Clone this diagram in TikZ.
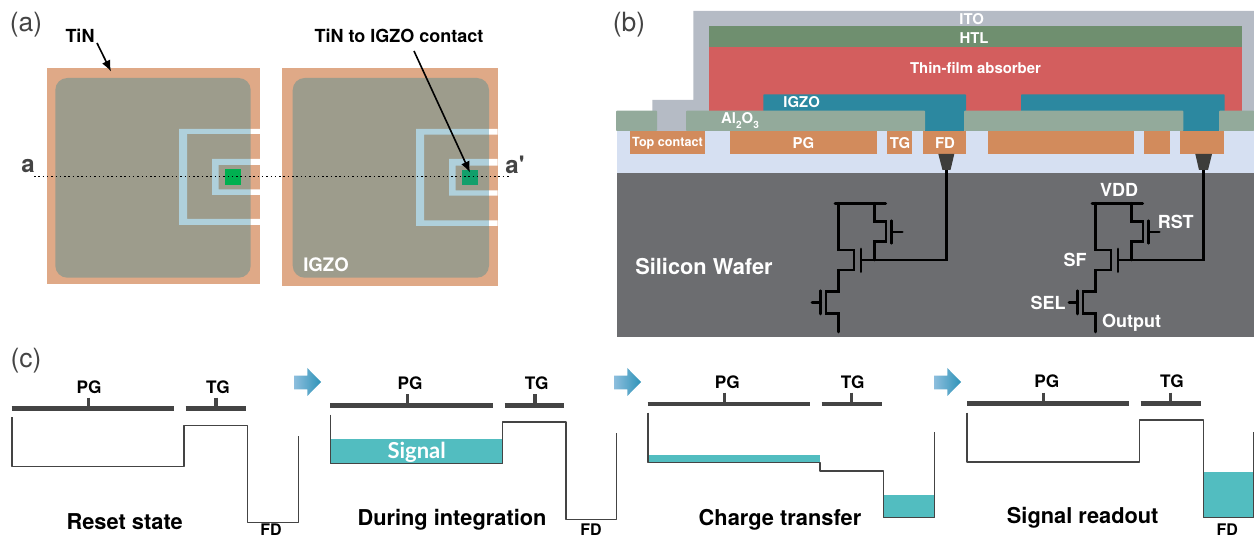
\documentclass[tikz,border=0pt]{standalone}
\usepackage{fontspec}
\setmainfont{TeX Gyre Heros}
\newfontfamily\plainheros{TeX Gyre Heros}
\newfontfamily\signalfont{Lato}
\usetikzlibrary{arrows.meta}
\definecolor{tincol}{HTML}{DFA987}
\definecolor{igzogray}{HTML}{9D9C8C}
\definecolor{ubluecol}{HTML}{AFD0DB}
\definecolor{itocol}{HTML}{B5BBC5}
\definecolor{htlcol}{HTML}{6F8F6F}
\definecolor{abscol}{HTML}{D35E5E}
\definecolor{igzocol}{HTML}{2C88A0}
\definecolor{alcol}{HTML}{93AA9B}
\definecolor{metalcol}{HTML}{D28B5C}
\definecolor{oxcol}{HTML}{D6E0F2}
\definecolor{sicol}{HTML}{6C6D70}
\definecolor{viacol}{HTML}{3D3D3B}
\definecolor{signalcol}{HTML}{52BDC0}
\definecolor{barcol}{HTML}{444444}
\definecolor{contactL}{HTML}{00B050}
\definecolor{contactR}{HTML}{129F6B}
\definecolor{arrowleft}{HTML}{8DBEDD}
\definecolor{arrowright}{HTML}{2E93B8}
\newcommand\subt[1]{\raisebox{-.3em}{\fontsize{10}{10}\selectfont #1}}
\tikzset{
  x=1pt,y=-1pt,
  panellab/.style={font=\fontsize{26.5}{26.5}\selectfont,text=barcol,inner sep=0pt},
  blacklab/.style={font=\fontsize{18}{18}\selectfont\bfseries,text=black,inner sep=0pt},
  sectlab/.style={font=\plainheros\fontsize{24}{24}\selectfont\bfseries,text=barcol,inner sep=0pt},
  whitelab/.style={font=\fontsize{14.9}{14.9}\selectfont\bfseries,text=white,inner sep=0pt},
  circlab/.style={font=\fontsize{18}{18}\selectfont\bfseries,text=white,inner sep=0pt},
  statelab/.style={font=\fontsize{21.8}{21.8}\selectfont\bfseries,text=black,inner sep=0pt},
  gatelab/.style={font=\fontsize{17.2}{17.2}\selectfont\bfseries,text=black,inner sep=0pt},
  fdlab/.style={font=\fontsize{16}{16}\selectfont\bfseries,text=black,inner sep=0pt},
  gatebar/.style={draw=barcol,line width=4.5pt},
  gatestem/.style={draw=barcol,line width=3.5pt},
  profile/.style={draw=barcol,line width=1.2pt,line join=round},
  wire/.style={draw=black,line width=2.8pt,line cap=round,line join=miter},
  callout/.style={draw=black,line width=1.6pt,-{Latex[length=11pt,width=9pt]}},
}
\newcommand\cellcircuit{%
  \draw[wire] (835,203.3) -- (885.7,203.3);
  \draw[wire] (838.3,203.3) -- (838.3,250) -- (854,250) -- (854,270) -- (838.3,270) -- (838.3,291.7) -- (826,291.7) -- (826,313.3) -- (838.3,313.3) -- (838.3,332);
  \draw[wire] (861,249) -- (861,271.7);
  \draw[wire] (820.7,290.7) -- (820.7,314);
  \draw[wire] (812,302.3) -- (820.7,302.3);
  \draw[wire] (874.3,203.3) -- (874.3,221.7) -- (886,221.7) -- (886,241.7) -- (874.3,241.7) -- (874.3,260);
  \draw[wire] (891.7,220.7) -- (891.7,243.3);
  \draw[wire] (891.7,232) -- (902.3,232);
}
\newcommand\flowarrowat[1]{%
  \shade[left color=arrowleft,right color=arrowright] (#1,375.7) -- (#1+13.3,375.7) -- (#1+13.3,368) -- (#1+27,382) -- (#1+13.3,396) -- (#1+13.3,389.3) -- (#1,389.3) -- cycle;
}
\begin{document}
\begin{tikzpicture}
\useasboundingbox (0,0) rectangle (1254,537);
% ---------- panel a ----------
\fill[tincol] (47,68.5) rectangle (260,284.5);
\fill[igzogray,rounded corners=12pt] (55.3,78) rectangle (250.7,277.7);
\fill[ubluecol] (250.7,129) -- (179,129) -- (179,225) -- (250.7,225) -- (250.7,219) -- (187,219) -- (187,134) -- (250.7,134) -- cycle;
\fill[ubluecol] (250.7,159) -- (212,159) -- (212,195) -- (250.7,195) -- (250.7,189.5) -- (218.7,189.5) -- (218.7,165) -- (250.7,165) -- cycle;
\fill[white] (250.7,129) rectangle (260,134) (250.7,159) rectangle (260,165) (250.7,189.5) rectangle (260,195) (250.7,219) rectangle (260,225);
\fill[contactL] (225,169) rectangle (241,184.7);
\fill[tincol] (282.3,68.5) rectangle (497.7,286);
\fill[igzogray,rounded corners=12pt] (292.7,78) rectangle (489,277.7);
\fill[ubluecol] (489,129) -- (416,129) -- (416,226) -- (489,226) -- (489,220.3) -- (424,220.3) -- (424,134.7) -- (489,134.7) -- cycle;
\fill[ubluecol] (489,159) -- (449,159) -- (449,195.7) -- (489,195.7) -- (489,190.3) -- (455.7,190.3) -- (455.7,165.7) -- (489,165.7) -- cycle;
\fill[white] (489,129) rectangle (497.7,134.7) (489,159) rectangle (497.7,165.7) (489,190.3) rectangle (497.7,195.7) (489,220.3) rectangle (497.7,226);
\node[fill=contactR,draw=none,minimum width=16.3pt,minimum height=15.3pt,inner sep=0pt] (contactpad) at (469.85,177.65) {};
\coordinate (acut) at (34,176);
\coordinate (bcut) at (510,176);
\draw[black,line width=0.8pt,dash pattern=on 1.5pt off 2.8pt] (acut) -- (bcut);
\node[panellab] (lbla) at (26,25) {(a)};
\node[blacklab] (tinlab) at (80,36) {TiN};
\coordinate (tinedge) at (111,71.5);
\coordinate (tinstart) at (97,43);
\draw[callout] (tinstart) -- (tinedge);
\node[blacklab] (contactlab) at (399,36) {TiN to IGZO contact};
\coordinate (contactstart) at (414,51);
\coordinate (contactend) at (470,172.5);
\draw[callout] (contactstart) -- (contactend);
\node[sectlab] (acutlab) at (28,166) {a};
\node[sectlab] (bcutlab) at (515,165) {a'};
\node[circlab,font=\fontsize{18.6}{18.6}\selectfont\bfseries] (igzoa) at (326,265) {IGZO};
% ---------- panel b ----------
\node[panellab] (lblb) at (629,25) {(b)};
\fill[itocol] (693.3,11) -- (1254,11) -- (1254,131) -- (652.3,131) -- (652.3,100) -- (693.3,100) -- cycle;
\fill[oxcol] (617,131) rectangle (1254,173.3);
\fill[sicol] (617,173.3) rectangle (1254,336.7);
\fill[htlcol] (709,26.3) rectangle (1241.7,47);
\fill[abscol] (709,47) rectangle (1241.7,111);
\fill[igzocol,rounded corners=0.8pt] (763.3,94.3) rectangle (966,112);
\fill[igzocol,rounded corners=0.8pt] (1021,94.3) rectangle (1224.7,112);
\fill[igzocol] (925,110) rectangle (964,131);
\fill[igzocol] (1183.3,110) rectangle (1219,131);
\fill[alcol,rounded corners=0.8pt] (616,110.7) rectangle (657,131);
\fill[alcol,rounded corners=0.8pt] (686,110.7) rectangle (925,131);
\fill[alcol,rounded corners=0.8pt] (964,110.7) rectangle (1183.3,131);
\fill[alcol,rounded corners=0.8pt] (1219,110.7) rectangle (1254,131);
\fill[metalcol] (630,131) rectangle (705.3,154);
\fill[metalcol] (730,131) rectangle (877,154);
\fill[metalcol] (886.7,131) rectangle (912.3,154);
\fill[metalcol] (922.7,131) rectangle (966,154);
\fill[metalcol] (988,131) rectangle (1134.3,154);
\fill[metalcol] (1144,131) rectangle (1169.7,154);
\fill[metalcol] (1180,131) rectangle (1223.7,154);
\node[whitelab] (ito) at (971.7,19) {ITO};
\node[whitelab] (htl) at (974,38) {HTL};
\node[whitelab] (abs) at (975.5,68) {Thin-film absorber};
\node[whitelab] (igzob) at (801.7,102) {IGZO};
\node[whitelab] (alox) at (740,120.5) {Al\subt{2}O\subt{3}};
\node[whitelab,font=\fontsize{12.6}{12.6}\selectfont\bfseries] (topc) at (667.5,143) {Top contact};
\node[whitelab] (pgb) at (803.5,143) {PG};
\node[whitelab] (tgb) at (900,143) {TG};
\node[whitelab] (fdb) at (945,143) {FD};
\node[font=\fontsize{21.8}{21.8}\selectfont\bfseries,text=white,inner sep=0pt] (wafer) at (704,267) {Silicon Wafer};
% circuits
\cellcircuit
\begin{scope}[xshift=257pt]\cellcircuit\end{scope}
\fill[viacol] (938.3,154) -- (954.3,154) -- (950.5,170) -- (942.5,170) -- cycle;
\fill[viacol] (1195.3,154) -- (1212,154) -- (1208,170) -- (1199,170) -- cycle;
\coordinate (viaA) at (946.7,170);
\coordinate (viaB) at (1203.3,170);
\coordinate (gateA) at (861,260);
\coordinate (gateB) at (1118,260);
\draw[wire,line cap=butt] (viaA) |- (gateA);
\draw[wire,line cap=butt] (viaB) |- (gateB);
\node[circlab] (vdd) at (1119,190) {VDD};
\node[circlab] (rst) at (1175.7,221.7) {RST};
\node[circlab] (sf) at (1075,260) {SF};
\node[circlab] (sel) at (1048,303) {SEL};
\node[circlab] (outp) at (1131.7,323) {Output};
% ---------- panel c ----------
\node[panellab] (lblc) at (26,361) {(c)};
\flowarrowat{294}
\flowarrowat{614}
\flowarrowat{934}
% state 1
\draw[gatebar] (11.7,408.3) -- (174,408.3);
\draw[gatestem] (88.3,397.7) -- (88.3,408);
\draw[gatebar] (185.7,408.3) -- (246.3,408.3);
\draw[gatestem] (216,397.7) -- (216,408);
\node[gatelab] (pg1) at (89,387) {PG};
\node[gatelab] (tg1) at (218,387) {TG};
\draw[profile] (12,417.3) |- (184,466.7) |- (247.7,425.7) |- (298.3,522.3) -- (298.3,436);
\node[statelab] (st1) at (124.7,522) {Reset state};
\node[fdlab] (fd1) at (271,530) {FD};
% state 2
\fill[signalcol] (330.3,438.7) rectangle (502.7,463.7);
\draw[gatebar] (330.3,405.3) -- (493.3,405.3);
\draw[gatestem] (407.3,394.3) -- (407.3,405);
\draw[gatebar] (504.7,405.3) -- (564.3,405.3);
\draw[gatestem] (535,394.3) -- (535,405);
\node[gatelab] (pg2) at (410,383) {PG};
\node[gatelab] (tg2) at (536.7,383) {TG};
\draw[profile] (330.3,414.7) |- (502.7,463.7) |- (566,422) |- (616.7,519.3) -- (616.7,433.3);
\node[font=\signalfont\fontsize{22}{22}\selectfont\bfseries,text=white,inner sep=0pt] (sig) at (416.7,452) {Signal};
\node[statelab] (st2) at (452,520) {During integration};
\node[fdlab] (fd2) at (591,530) {FD};
% state 3
\fill[signalcol] (648,454.7) rectangle (820,462.3);
\fill[signalcol] (883.3,495) rectangle (934.7,517.7);
\draw[gatebar] (647.7,404) -- (810.3,404);
\draw[gatestem] (724.7,392.7) -- (724.7,404);
\draw[gatebar] (821.7,404) -- (882.3,404);
\draw[gatestem] (851.7,392.7) -- (851.7,404);
\node[gatelab] (pg3) at (727.3,382.3) {PG};
\node[gatelab] (tg3) at (852.7,382.3) {TG};
\draw[profile] (648,412.7) |- (820,462.3) |- (883.3,471) |- (934.7,517.7) -- (934.7,431.7);
\node[statelab] (st3) at (780,520) {Charge transfer};
% state 4
\fill[signalcol] (1203.3,472) rectangle (1253.5,517.7);
\draw[gatebar] (967,403.3) -- (1129.3,403.3);
\draw[gatestem] (1043.7,392.7) -- (1043.7,403);
\draw[gatebar] (1140.7,403.3) -- (1201.3,403.3);
\draw[gatestem] (1170.7,392.7) -- (1170.7,403);
\node[gatelab] (pg4) at (1046.7,381.7) {PG};
\node[gatelab] (tg4) at (1172,381.7) {TG};
\draw[profile] (967,412.7) |- (1139.3,462) |- (1203.3,420) |- (1253.3,517.7) -- (1253.3,432);
\node[statelab] (st4) at (1082.7,517.3) {Signal readout};
\node[fdlab] (fd4) at (1227.3,530) {FD};
\end{tikzpicture}
\end{document}
